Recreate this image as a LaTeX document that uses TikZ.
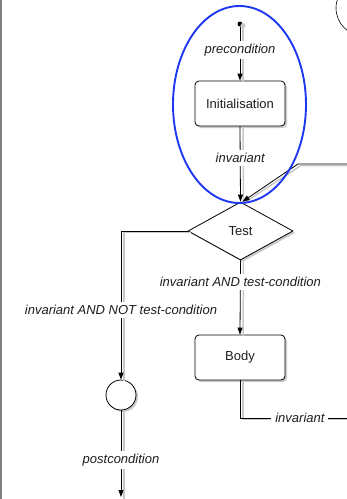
\documentclass[tikz,border=0pt]{standalone}
\usepackage{fontspec}
\setmainfont{Liberation Sans}
\usetikzlibrary{shapes.geometric,arrows.meta,shadows}
\definecolor{loopblue}{RGB}{30,55,240}
\definecolor{shadowgray}{RGB}{200,200,200}
\definecolor{txt}{RGB}{30,30,30}
\begin{document}
\begin{tikzpicture}[x=1pt,y=-1pt,
  font=\fontsize{13}{15}\selectfont,
  flow/.style={draw=black, line width=0.8pt},
  tip/.style={-{Triangle[length=7pt,width=5pt]}},
  shade/.style={draw=shadowgray, line width=1.5pt},
  boxshadow/.style={drop shadow={shadow xshift=2pt, shadow yshift=-2pt, opacity=0.35, fill=black!60}},
  action/.style={draw=black, line width=0.8pt, fill=white, rounded corners=4pt,
    minimum width=90pt, minimum height=45pt, inner sep=0pt, text=txt, boxshadow},
  decision/.style={diamond, draw=black, line width=0.8pt, fill=white, inner sep=0pt,
    minimum width=105pt, minimum height=58pt, aspect=1.81, text=txt, boxshadow},
  lbl/.style={fill=white, inner xsep=4pt, inner ysep=3pt, font=\fontsize{13}{15}\selectfont\itshape, text=txt},
]
\useasboundingbox (0,0) rectangle (347,499);
\clip (0,0) rectangle (347,499);

% frame edge on the left
\fill[gray] (0,0) rectangle (2,499);

% nodes
\node[circle, fill=black, inner sep=0pt, minimum size=5pt] (start) at (240,24) {};
\node[action] (init) at (240,103.5) {Initialisation};
\node[decision] (test) at (240.5,231) {Test};
\node[action] (body) at (240,357.5) {Body};
\node[circle, draw=black, line width=0.8pt, fill=white, minimum size=30pt, inner sep=0pt, boxshadow] (stop) at (121,395) {};
\node[circle, draw=black, line width=0.6pt, minimum size=56pt, inner sep=0pt] (other) at (364,8) {};

\coordinate (inR) at (347,164);
\coordinate (inBend) at (298,164);
\coordinate (outR) at (347,418);
\coordinate (finish) at (121,497);

% connector shadows
\begin{scope}[transform canvas={shift={(3pt,-1.5pt)}}]
  \fill[shadowgray] (start) circle (2.5pt);
  \draw[shade] (start) -- (init.north);
  \draw[shade] (init.south) -- (test.north);
  \draw[shade] (inR) -- (inBend) -- (test.north);
  \draw[shade] (test.west) -| (stop.north);
  \draw[shade] (test.south) -- (body.north);
  \draw[shade] (body.south) |- (outR);
  \draw[shade] (stop.south) -- (finish);
\end{scope}

% connectors
\draw[flow, tip] (start) -- node[lbl, pos=0.43] {precondition} (init.north);
\draw[flow, tip] (init.south) -- node[lbl, pos=0.42] {invariant} (test.north);
\draw[flow, tip] (inR) -- (inBend) -- ([xshift=2pt]test.north);
\draw[flow, tip] (test.west) -| node[lbl, pos=0.765] {invariant AND NOT test-condition} (stop.north);
\draw[flow, tip] (test.south) -- node[lbl, pos=0.29] {invariant AND test-condition} (body.north);
\draw[flow] (body.south) |- node[lbl, pos=0.78] {invariant} (outR);
\draw[flow, tip] (stop.south) -- node[lbl, pos=0.57] {postcondition} (finish);

% highlighted region round the initialisation
\draw[loopblue, line width=1.9pt] (239.5,104.5) ellipse [x radius=66.5, y radius=98.5];
\end{tikzpicture}
\end{document}
